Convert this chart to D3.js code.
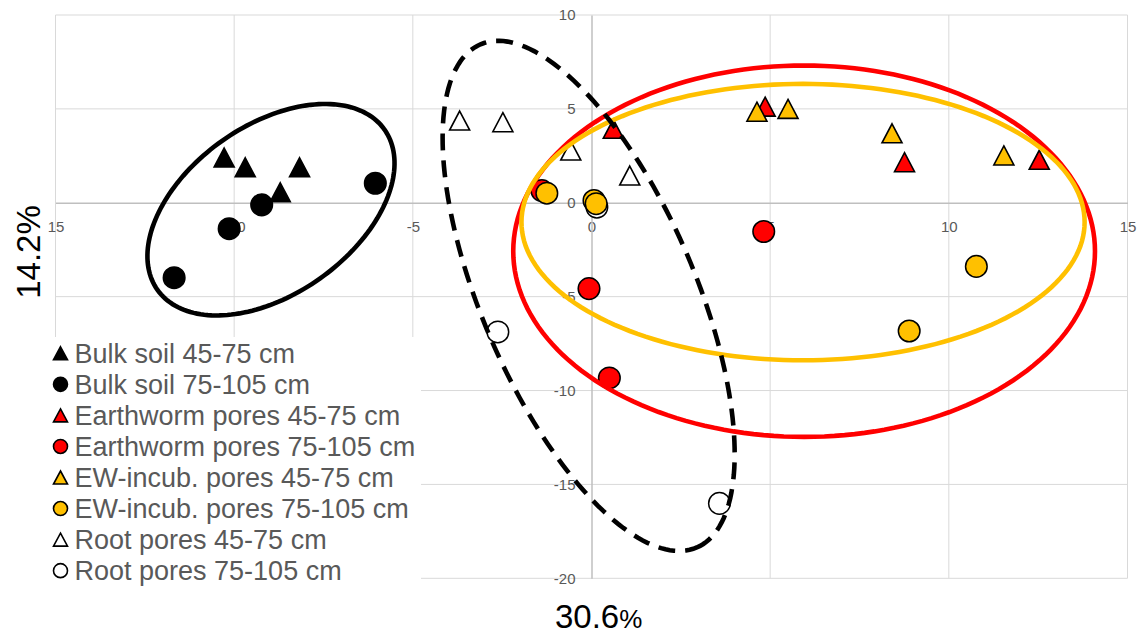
<!DOCTYPE html>
<html><head><meta charset="utf-8">
<script src="https://cdn.jsdelivr.net/npm/d3@7"></script>
<style>body{margin:0;background:#fff} svg{display:block}</style>
</head><body><svg id="c" width="1139" height="635"></svg>
<script>
// ---- data ----
const xTickValues = [-15, -10, -5, 0, 5, 10, 15];
const xTickLabels = ["15", "-10", "-5", "0", "5", "10", "15"];
const yTickValues = [10, 5, 0, -5, -10, -15, -20];
const yTickLabels = ["10", "5", "0", "-5", "-10", "-15", "-20"];

const seriesNames = [
  "Bulk soil 45-75 cm", "Bulk soil 75-105 cm",
  "Earthworm pores 45-75 cm", "Earthworm pores 75-105 cm",
  "EW-incub. pores 45-75 cm", "EW-incub. pores 75-105 cm",
  "Root pores 45-75 cm", "Root pores 75-105 cm"
];
const seriesShapes = ["triangle", "circle", "triangle", "circle", "triangle", "circle", "triangle", "circle"];
const seriesFills = ["#000000", "#000000", "#ff0000", "#ff0000", "#ffc000", "#ffc000", "#ffffff", "#ffffff"];

const bulk4575 = [[-10.28, 2.41], [-9.69, 1.89], [-8.17, 1.89], [-8.71, 0.56]];
const bulk75105 = [[-11.68, -3.99], [-10.14, -1.38], [-9.23, -0.11], [-6.05, 1.04]];
const ew4575 = [[0.61, 3.94], [4.86, 5.12], [8.76, 2.16], [12.53, 2.29]];
const ew75105 = [[-1.39, 0.65], [4.82, -1.53], [-0.07, -4.57], [0.50, -9.33]];
const inc4575 = [[4.63, 4.85], [5.50, 5.00], [8.41, 3.70], [11.54, 2.52]];
const inc75105 = [[-1.25, 0.51], [0.07, 0.12], [0.13, -0.05], [10.77, -3.39], [8.89, -6.83]];
const root4575 = [[-3.69, 4.38], [-2.48, 4.29], [-0.58, 2.78], [1.07, 1.45]];
const root75105 = [[0.15, -0.23], [-2.62, -6.88], [3.58, -16.01]];
const seriesData = [bulk4575, bulk75105, ew4575, ew75105, inc4575, inc75105, root4575, root75105];
// drawing order (root 75-105 sits underneath)
const drawOrder = [7, 0, 1, 2, 3, 4, 5, 6];

// group ellipses in data units: centre and two conjugate semi-axis vectors
const ellipses = [
  {cx: 5.95, cy: -2.58, ax: 8.14, ay: 0, bx: 0, by: 9.89, color: "#ff0000", dash: null},
  {cx: 5.92, cy: -1.03, ax: 7.88, ay: 0, bx: 0, by: 7.36, color: "#ffc000", dash: null},
  {cx: -8.97, cy: -0.37, ax: 3.176, ay: 4.271, bx: 1.367, by: -3.670, color: "#000000", dash: null},
  {cx: -0.08, cy: -4.96, ax: 3.025, ay: -13.40, bx: 2.748, by: 2.234, color: "#000000", dash: "17,10"}
];

const xTitle = "30.6";
const yTitle = "14.2%";

// ---- chart ----
const svg = d3.select("#c");
const x = d3.scaleLinear().domain([-15, 15]).range([55.5, 1127.5]);
const y = d3.scaleLinear().domain([-20, 10]).range([578.3, 15]);

const grid = svg.append("g");
grid.selectAll("line.v").data(xTickValues.filter(d => d !== 0)).join("line")
  .attr("x1", d => x(d)).attr("x2", d => x(d))
  .attr("y1", y(10)).attr("y2", y(-20))
  .attr("stroke", "#d9d9d9").attr("stroke-width", 1);
grid.selectAll("line.h").data(yTickValues.filter(d => d !== 0)).join("line")
  .attr("y1", d => y(d)).attr("y2", d => y(d))
  .attr("x1", x(-15)).attr("x2", x(15))
  .attr("stroke", "#d9d9d9").attr("stroke-width", 1);

const xAxis = d3.axisBottom(x).tickValues(xTickValues)
  .tickFormat((d, i) => xTickLabels[i]).tickSize(0).tickPadding(19);
const yAxis = d3.axisLeft(y).tickValues(yTickValues)
  .tickFormat((d, i) => yTickLabels[i]).tickSize(0).tickPadding(16);

const gx = svg.append("g").attr("transform", `translate(0,${y(0)})`).call(xAxis);
const gy = svg.append("g").attr("transform", `translate(${x(0)},0)`).call(yAxis);
[gx, gy].forEach(g => {
  g.select(".domain").attr("stroke", "#bfbfbf").attr("stroke-width", 1.5);
  g.selectAll("text").attr("fill", "#595959").attr("font-size", 15)
    .attr("font-family", "Liberation Sans, Arial, sans-serif");
});

// legend
const legend = svg.append("g");
legend.append("rect").attr("x", 46).attr("y", 337).attr("width", 375).attr("height", 255).attr("fill", "#fff");
const triPath = (w, h) => `M0,${-h / 2}L${w / 2},${h / 2}L${-w / 2},${h / 2}Z`;
seriesNames.forEach((name, i) => {
  const cy = 353.3 + i * 31.05;
  const g = legend.append("g").attr("transform", `translate(60.5,${cy})`);
  if (seriesShapes[i] === "triangle") {
    g.append("path").attr("d", triPath(14, 13)).attr("fill", seriesFills[i])
      .attr("stroke", "#000").attr("stroke-width", 1.6).attr("stroke-linejoin", "miter");
  } else {
    g.append("circle").attr("r", 7).attr("fill", seriesFills[i])
      .attr("stroke", "#000").attr("stroke-width", 1.6);
  }
  legend.append("text").attr("x", 74.5).attr("y", cy + 9.6)
    .attr("font-family", "Liberation Sans, Arial, sans-serif").attr("font-size", 27)
    .attr("fill", "#595959").text(name);
});

// markers
const marks = svg.append("g");
drawOrder.forEach(i => {
  const g = marks.append("g");
  if (seriesShapes[i] === "triangle") {
    g.selectAll("path").data(seriesData[i]).join("path")
      .attr("transform", d => `translate(${x(d[0])},${y(d[1])})`)
      .attr("d", triPath(20, 19))
      .attr("fill", seriesFills[i]).attr("stroke", "#000").attr("stroke-width", 1.6);
  } else {
    g.selectAll("circle").data(seriesData[i]).join("circle")
      .attr("cx", d => x(d[0])).attr("cy", d => y(d[1])).attr("r", 10.8)
      .attr("fill", seriesFills[i]).attr("stroke", "#000").attr("stroke-width", 1.5);
  }
});

// ellipses
const line = d3.line().x(d => x(d[0])).y(d => y(d[1])).curve(d3.curveLinearClosed);
ellipses.forEach(e => {
  const pts = d3.range(0, 360, 2).map(a => {
    const t = a * Math.PI / 180;
    return [e.cx + e.ax * Math.cos(t) + e.bx * Math.sin(t), e.cy + e.ay * Math.cos(t) + e.by * Math.sin(t)];
  });
  const p = svg.append("path").attr("d", line(pts)).attr("fill", "none")
    .attr("stroke", e.color).attr("stroke-width", 4.6);
  if (e.dash) p.attr("stroke-dasharray", e.dash);
});

// axis titles
const xt = svg.append("text").attr("x", 555).attr("y", 628)
  .attr("font-family", "Liberation Sans, Arial, sans-serif").attr("font-size", 33).attr("fill", "#000");
xt.append("tspan").text(xTitle);
xt.append("tspan").attr("font-size", 26).text("%");
svg.append("text").attr("transform", "translate(40,252) rotate(-90)")
  .attr("text-anchor", "middle")
  .attr("font-family", "Liberation Sans, Arial, sans-serif").attr("font-size", 33).attr("fill", "#000")
  .text(yTitle);
</script></body></html>
